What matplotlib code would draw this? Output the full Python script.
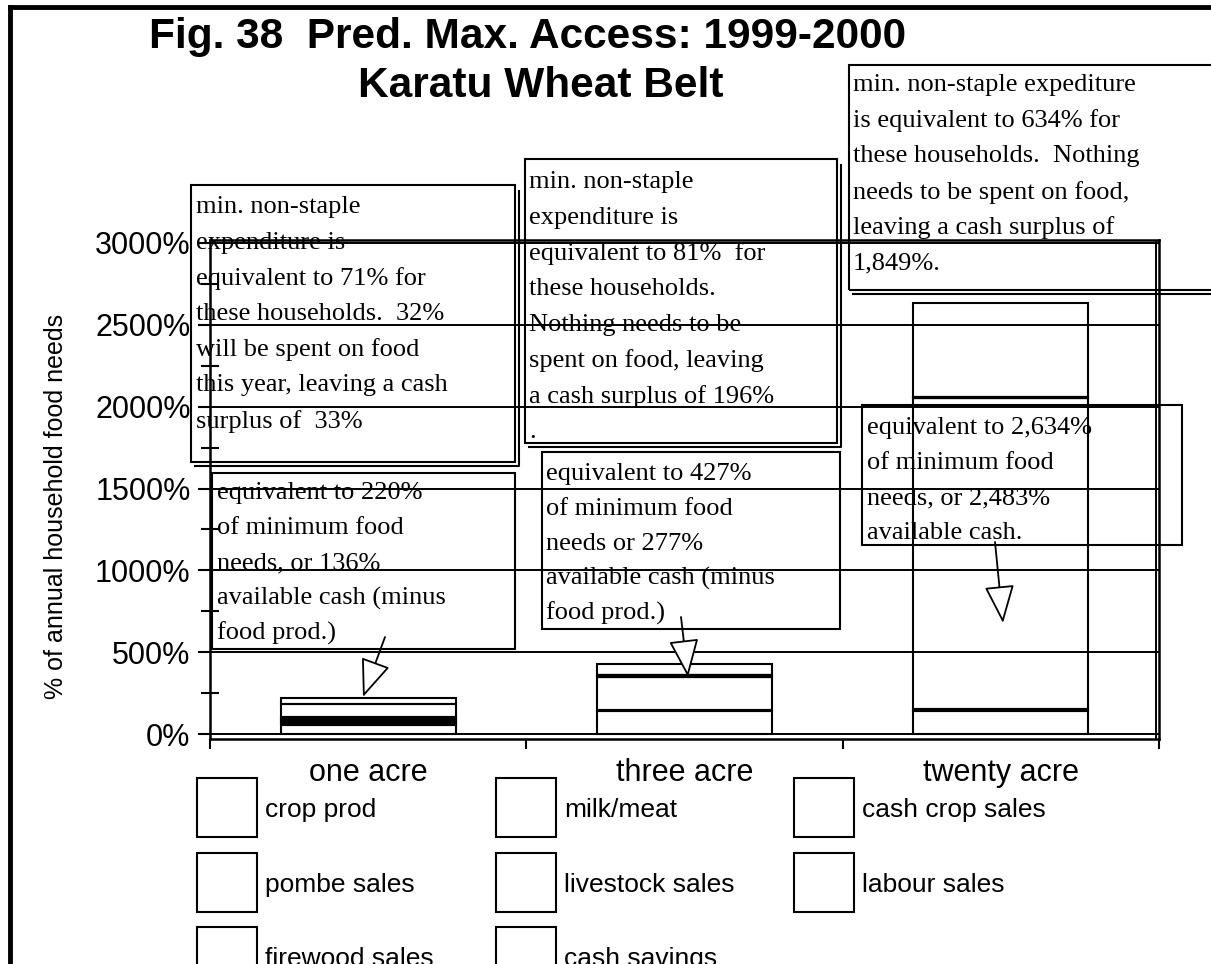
import matplotlib
matplotlib.use("Agg")
import matplotlib.pyplot as plt
import numpy as np
from matplotlib.patches import Rectangle, FancyArrowPatch
from matplotlib.lines import Line2D

plt.rcParams['font.family'] = ['Liberation Sans', 'DejaVu Sans']

W, H = 1211, 964

# data (% of annual household food needs)
farms = ['one acre', 'three acre', 'twenty acre']
sources = ['crop prod', 'milk/meat', 'cash crop sales',
           'pombe sales', 'livestock sales', 'labour sales',
           'firewood sales', 'cash savings']

crop_prod = [56, 140, 140]
milk_meat = [12, 10, 11]
cash_crop_sales = [0, 200, 1900]
pombe_sales = [12, 0, 0]
livestock_sales = [12, 12, 0]
labour_sales = [12, 0, 10]
firewood_sales = [80, 0, 0]
cash_savings = [36, 65, 573]

yticks = [0, 500, 1000, 1500, 2000, 2500, 3000]
ytick_labels = ['0%', '500%', '1000%', '1500%', '2000%', '2500%', '3000%']

title1 = 'Fig. 38  Pred. Max. Access: 1999-2000'
title2 = 'Karatu Wheat Belt'
ylabel = '% of annual household food needs'

note_one = ['min. non-staple', 'expenditure is', 'equivalent to 71% for',
            'these households.  32%', 'will be spent on food',
            'this year, leaving a cash', 'surplus of  33%']
note_three = ['min. non-staple', 'expenditure is', 'equivalent to 81%  for',
              'these households.', 'Nothing needs to be',
              'spent on food, leaving', 'a cash surplus of 196%', '.']
note_twenty = ['min. non-staple expediture', 'is equivalent to 634% for',
               'these households.  Nothing', 'needs to be spent on food,',
               'leaving a cash surplus of', '1,849%.']
call_one = ['equivalent to 220%', 'of minimum food', 'needs, or 136%',
            'available cash (minus', 'food prod.)']
call_three = ['equivalent to 427%', 'of minimum food', 'needs or 277%',
              'available cash (minus', 'food prod.)']
call_twenty = ['equivalent to 2,634%', 'of minimum food', 'needs, or 2,483%',
               'available cash.']


def fx(x):
    return x / W


def fy(y):
    return 1 - y / H


fig = plt.figure(figsize=(W / 100, H / 100), dpi=100)
ax = fig.add_axes([fx(210), fy(739), 949 / W, 499 / H])

series = [crop_prod, milk_meat, cash_crop_sales, pombe_sales,
          livestock_sales, labour_sales, firewood_sales, cash_savings]
x = np.arange(len(farms))
bottom = np.zeros(len(farms))
for name, vals in zip(sources, series):
    ax.bar(x, vals, 0.554, bottom=bottom, facecolor='none',
           edgecolor='black', linewidth=1.5, zorder=3, label=name)
    bottom += np.array(vals)

ax.set_xlim(-0.5, 2.5)
ax.set_ylim(-30, 3018)
ax.set_yticks(yticks)
ax.set_yticklabels(ytick_labels)
ax.set_yticks(np.arange(250, 3000, 500), minor=True)
ax.yaxis.grid(True, which='major', color='black', linewidth=1.4)
ax.axvline(2.49, color='black', linewidth=1.4)

ax.set_xticks(x)
ax.set_xticklabels(farms)
ax.set_xticks([-0.5, 0.5, 1.5, 2.5], minor=True)

ax.tick_params(axis='y', which='major', direction='out', length=9,
               width=1.5, labelsize=22, pad=5)
ax.tick_params(axis='y', which='minor', direction='inout', length=13,
               width=1.5)
ax.tick_params(axis='x', which='major', length=0, labelsize=22, pad=14)
ax.tick_params(axis='x', which='minor', direction='out', length=7,
               width=1.5)
for s in ax.spines.values():
    s.set_linewidth(1.8)

fig.text(fx(56), fy(506), ylabel, rotation=90, fontsize=18,
         ha='center', va='center')
fig.text(fx(528), fy(37), title1, fontsize=30.5, fontweight='bold',
         ha='center', va='center')
fig.text(fx(541), fy(86), title2, fontsize=30.5, fontweight='bold',
         ha='center', va='center')

# frame of the page
fig.add_artist(Line2D([fx(10), fx(W)], [fy(7), fy(7)], color='black',
                      linewidth=3.5, transform=fig.transFigure))
fig.add_artist(Line2D([fx(10), fx(10)], [fy(7), fy(H)], color='black',
                      linewidth=3.5, transform=fig.transFigure))


def text_box(x0, y0, x1, y1, lines, tx, ty, step, shadow=False):
    fig.add_artist(Rectangle((fx(x0), fy(y1)), (x1 - x0) / W, (y1 - y0) / H,
                             fill=False, edgecolor='black', linewidth=1.5,
                             transform=fig.transFigure))
    if shadow:
        fig.add_artist(Line2D([fx(x0 + 4), fx(x1 + 4), fx(x1 + 4)],
                              [fy(y1 + 4), fy(y1 + 4), fy(y0 + 6)],
                              color='black', linewidth=1.5,
                              transform=fig.transFigure))
    for i, line in enumerate(lines):
        fig.text(fx(tx), fy(ty + i * step), line, fontsize=19,
                 family='Liberation Serif', ha='left', va='center')


def arrow(x0, y0, x1, y1):
    fig.add_artist(FancyArrowPatch(
        (fx(x0), fy(y0)), (fx(x1), fy(y1)), transform=fig.transFigure,
        arrowstyle='-|>,head_length=24,head_width=9.5', mutation_scale=1,
        facecolor='white', edgecolor='black', linewidth=1.3,
        shrinkA=0, shrinkB=0))


text_box(191, 185, 515, 462, note_one, 196, 207, 35.7, shadow=True)
text_box(525, 159, 837, 443, note_three, 529, 182, 35.7, shadow=True)
text_box(849, 65, 1240, 290, note_twenty, 853, 85, 35.7, shadow=True)
text_box(212, 473, 515, 649, call_one, 217, 493, 35)
text_box(542, 452, 840, 629, call_three, 546, 474, 34.8)
text_box(862, 405, 1182, 545, call_twenty, 867, 428, 35)

arrow(385, 637, 363, 697)
arrow(681, 617, 688, 677)
arrow(995, 542, 1003, 623)

# legend, filled row by row
col_x = [197, 496, 794]
row_y = [778, 853, 927]
for i, name in enumerate(sources):
    bx = col_x[i % 3]
    by = row_y[i // 3]
    fig.add_artist(Rectangle((fx(bx), fy(by + 59)), 60 / W, 59 / H,
                             fill=False, edgecolor='black', linewidth=1.5,
                             transform=fig.transFigure))
    fig.text(fx(bx + 68), fy(by + 32), name, fontsize=19,
             ha='left', va='center')

fig.savefig('out.png', dpi=100)
